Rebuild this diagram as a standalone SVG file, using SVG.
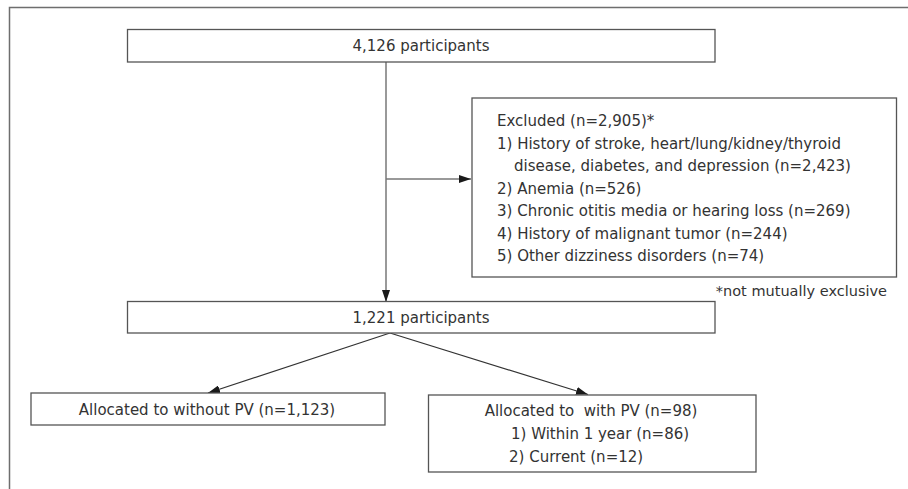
<svg xmlns="http://www.w3.org/2000/svg" width="908" height="489" viewBox="0 0 908 489">
<defs>
<style>
.frame{fill:none;stroke:#6e6e6e;stroke-width:1.5}
.box{fill:#fff;stroke:#555;stroke-width:1.3}
.conn{fill:none;stroke:#333;stroke-width:1.2}
.vconn{fill:none;stroke:#777;stroke-width:1.5}
text{font-family:"DejaVu Sans","Liberation Sans",Arial,sans-serif;font-size:15px;fill:#333}
.c{text-anchor:middle}
.note{font-size:14.5px}
</style>
<marker id="ah" viewBox="0 0 12 8" refX="12" refY="4" markerWidth="12" markerHeight="8" markerUnits="userSpaceOnUse" orient="auto">
<path d="M0,0 L12,4 L0,8 Z" fill="#1a1a1a"/>
</marker>
</defs>
<rect width="908" height="489" fill="#fff"/>
<path class="frame" d="M9.5,489 V7.5 H908"/>
<g id="connectors">
<line class="vconn" x1="386" y1="62" x2="386" y2="302" marker-end="url(#ah)"/>
<line class="vconn" x1="386" y1="179" x2="471" y2="179" marker-end="url(#ah)"/>
<line class="conn" x1="390" y1="333" x2="208" y2="393" marker-end="url(#ah)"/>
<line class="conn" x1="390" y1="333" x2="588" y2="394.5" marker-end="url(#ah)"/>
</g>
<g id="n1">
<rect class="box" x="127.5" y="29.5" width="587.5" height="32.5"/>
<text class="c" x="421" y="51">4,126 participants</text>
</g>
<g id="excluded">
<rect class="box" x="472" y="98" width="424.5" height="179"/>
<text x="497" y="126">Excluded (n=2,905)*</text>
<text x="497" y="149">1) History of stroke, heart/lung/kidney/thyroid</text>
<text x="514" y="171">disease, diabetes, and depression (n=2,423)</text>
<text x="497" y="193.5">2) Anemia (n=526)</text>
<text x="497" y="216">3) Chronic otitis media or hearing loss (n=269)</text>
<text x="497" y="238.5">4) History of malignant tumor (n=244)</text>
<text x="497" y="261">5) Other dizziness disorders (n=74)</text>
</g>
<g id="note">
<text class="note" x="887" y="296" text-anchor="end">*not mutually exclusive</text>
</g>
<g id="n2">
<rect class="box" x="127.5" y="301.5" width="587.5" height="31.5"/>
<text class="c" x="421" y="323">1,221 participants</text>
</g>
<g id="n3">
<rect class="box" x="31" y="393" width="354" height="32"/>
<text class="c" x="207" y="415">Allocated to without PV (n=1,123)</text>
</g>
<g id="n4">
<rect class="box" x="428.5" y="395" width="327.5" height="77"/>
<text class="c" x="591" y="416" xml:space="preserve">Allocated to  with PV (n=98)</text>
<text x="511" y="439">1) Within 1 year (n=86)</text>
<text x="509" y="462">2) Current (n=12)</text>
</g>
</svg>
